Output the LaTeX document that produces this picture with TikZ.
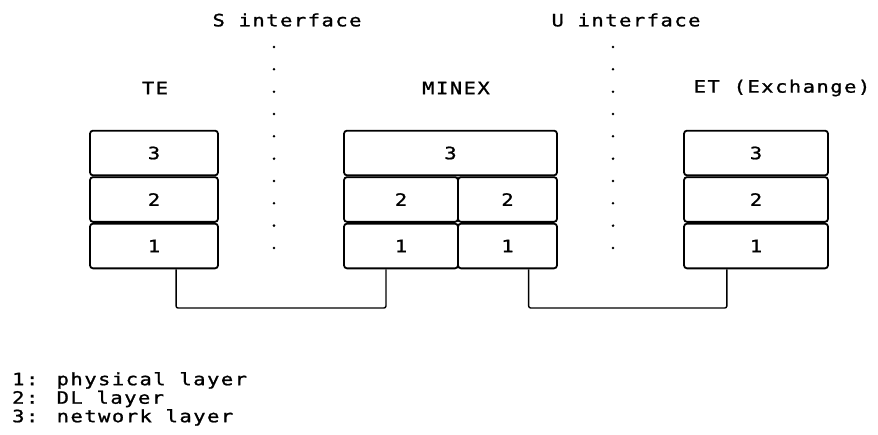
\documentclass[tikz,border=0pt]{standalone}
\usepackage{fontspec}
\usepackage{tikz}
\usetikzlibrary{positioning,calc}
\newfontfamily\plotfont{DejaVu Sans Mono}[FakeStretch=1.2,LetterSpace=9,FakeBold=1.2]

\begin{document}
\begin{tikzpicture}[x=1pt,y=-1pt,
   font=\plotfont\fontsize{17}{18.5}\selectfont,
   layer/.style={draw,line width=1.8pt,rounded corners=3pt,
              minimum height=44.7pt,inner sep=0pt},
   wire/.style={line width=1.4pt,rounded corners=2pt},
   ifdot/.style={fill=black},
   lbl/.style={inner sep=0pt},
   node distance=0pt,
]
\useasboundingbox (0,0) rectangle (878,434);

% interfaces
\node[lbl] (sif) at (287,20) {S interface};
\node[lbl] (uif) at (626,20) {U interface};
\foreach \i in {0,...,9} {
  \fill[ifdot] (274,47+22.33*\i) circle (1.4pt);
  \fill[ifdot] (613,47+22.33*\i) circle (1.4pt);
}

% column titles
\node[lbl] (tte) at (155,88) {TE};
\node[lbl] (tmx) at (456,88) {MINEX};
\node[lbl] (tet) at (782,88) {ET (Exchange)};

% TE stack
\node[layer,minimum width=128pt] (te3) at (154,153) {3};
\node[layer,minimum width=128pt,below=of te3] (te2) {2};
\node[layer,minimum width=128pt,below=of te2] (te1) {1};

% MINEX stack
\node[layer,minimum width=213pt] (mx3) at (450.5,153) {3};
\node[layer,minimum width=114pt,anchor=north west] (mx2a) at (mx3.south west) {2};
\node[layer,minimum width=99pt,anchor=north east] (mx2b) at (mx3.south east) {2};
\node[layer,minimum width=114pt,below=of mx2a] (mx1a) {1};
\node[layer,minimum width=99pt,below=of mx2b] (mx1b) {1};

% ET stack
\node[layer,minimum width=144pt] (et3) at (756,153) {3};
\node[layer,minimum width=144pt,below=of et3] (et2) {2};
\node[layer,minimum width=144pt,below=of et2] (et1) {1};

% physical links
\coordinate (bus) at (0,308);
\coordinate (pte) at ($(te1.south west)!0.67!(te1.south east)$);
\coordinate (pmxa) at ($(mx1a.south west)!0.37!(mx1a.south east)$);
\coordinate (pmxb) at ($(mx1b.south west)!0.71!(mx1b.south east)$);
\coordinate (pet) at ($(et1.south west)!0.30!(et1.south east)$);
\draw[wire] (pte) -- (pte |- bus) -| (pmxa);
\draw[wire] (pmxb) -- (pmxb |- bus) -| (pet);

% legend
\node[lbl,align=left,anchor=north west] (legend) at (12,372)
   {1: physical layer\\2: DL layer\\3: network layer};
\end{tikzpicture}
\end{document}
